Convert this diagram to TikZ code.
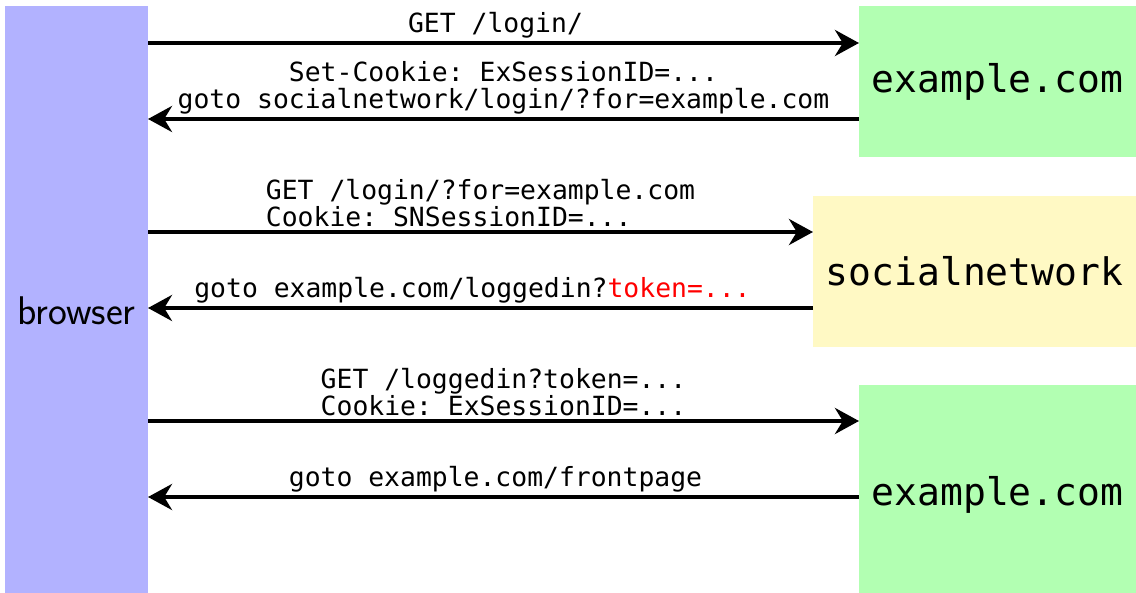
\documentclass[tikz,border=0pt]{standalone}
\usepackage{fontspec}
\setmonofont{DejaVu Sans Mono}
\usetikzlibrary{arrows.meta,positioning}
\definecolor{snyellow}{RGB}{255,249,196}
\tikzset{
  >=stealth,
  box/.style    ={anchor=north west, inner sep=0pt, outer sep=0pt, align=center},
  client/.style ={box, fill=blue!30, font=\sffamily\fontsize{20}{24}\selectfont},
  site/.style   ={box, fill=green!30, font=\ttfamily\fontsize{19}{22}\selectfont},
  idp/.style    ={box, fill=snyellow, font=\ttfamily\fontsize{19}{22}\selectfont},
  msg/.style    ={-{Stealth[length=12pt,width=13pt]}, line width=2pt},
  lbl/.style    ={above, inner sep=1.5pt, font=\ttfamily\fontsize{13.2}{13.5}\selectfont},
  lbl1/.style   ={lbl, xshift=-4pt},
}
\begin{document}
\begin{tikzpicture}[x=0.5pt,y=-0.5pt]
  \useasboundingbox (0,0) rectangle (1136,593);
  \node[client, minimum width=71.5pt, minimum height=293.5pt, text height=25pt, text depth=0pt] (browser) at (5,6) {browser};
  \node[site, minimum width=138.5pt, minimum height=75.5pt] (ex1) at (859,6) {example.com};
  \node[idp, minimum width=161.5pt, minimum height=75.5pt] (sn) at (813,196) {socialnetwork};
  \node[site, minimum width=138.5pt, minimum height=104pt, text height=20.5pt] (ex2) at (859,385) {example.com};
  % points on the servers where the messages meet them
  \coordinate (m1) at ([yshift=19.25pt]ex1.west);
  \coordinate (m2) at ([yshift=-18.75pt]ex1.west);
  \coordinate (m3) at ([yshift=19.75pt]sn.west);
  \coordinate (m4) at ([yshift=-18.25pt]sn.west);
  \coordinate (m5) at ([yshift=34pt]ex2.west);
  \coordinate (m6) at ([yshift=-4pt]ex2.west);
  \draw[msg] (browser.east |- m1) -- node[lbl1]{GET /login/} (m1);
  \draw[msg] (m2) -- node[lbl, align=center]{Set-Cookie: ExSessionID=...\\goto socialnetwork/login/?for=example.com} (browser.east |- m2);
  \draw[msg] (browser.east |- m3) -- node[lbl, align=left]{GET /login/?for=example.com\\Cookie: SNSessionID=...} (m3);
  \draw[msg] (m4) -- node[lbl1]{goto example.com/loggedin?\textcolor{red}{token=...}} (browser.east |- m4);
  \draw[msg] (browser.east |- m5) -- node[lbl, align=left]{GET /loggedin?token=...\\Cookie: ExSessionID=...} (m5);
  \draw[msg] (m6) -- node[lbl1]{goto example.com/frontpage} (browser.east |- m6);
\end{tikzpicture}
\end{document}
